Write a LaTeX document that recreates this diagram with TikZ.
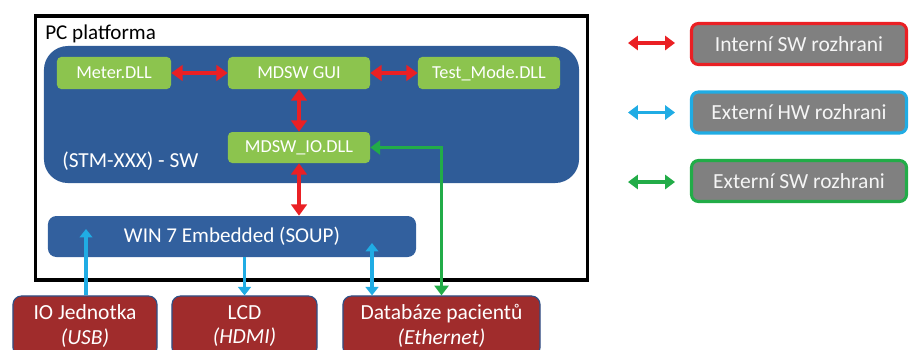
\documentclass[tikz,border=0pt]{standalone}
\usepackage{fontspec}
\setmainfont{Carlito}
\usetikzlibrary{arrows.meta}
\definecolor{swblue}{RGB}{47,92,152}
\definecolor{winblue}{RGB}{50,96,158}
\definecolor{dllgreen}{RGB}{140,196,78}
\definecolor{hwred}{RGB}{160,44,44}
\definecolor{hwedge}{RGB}{45,80,135}
\definecolor{leggray}{RGB}{128,128,128}
\definecolor{intred}{RGB}{234,32,36}
\definecolor{hwcyan}{RGB}{32,172,228}
\definecolor{swgreen}{RGB}{34,172,72}

\begin{document}
\begin{tikzpicture}[x=0.025cm,y=-0.025cm,
  dll/.style={fill=dllgreen,rounded corners=3pt,text=white,font=\fontsize{13}{15}\selectfont,
    minimum width=3.55cm,minimum height=0.8cm,inner sep=0pt},
  hwbox/.style={fill=hwred,draw=hwedge,line width=0.8pt,rounded corners=6pt,text=white,align=center,
    font=\fontsize{15.3}{17.5}\selectfont,minimum height=1.5cm,inner sep=0pt},
  legbox/.style={fill=leggray,line width=2.2pt,rounded corners=5pt,text=white!92!gray,
    font=\fontsize{15.3}{17}\selectfont,minimum width=5.375cm,minimum height=1.025cm,inner sep=0pt},
  biarr/.style={draw=#1,line width=2.4pt,{Triangle[length=7pt,width=10pt]}-{Triangle[length=7pt,width=10pt]}},
  intarr/.style={draw=intred,line width=2.6pt,{Triangle[length=8pt,width=11pt]}-{Triangle[length=8pt,width=11pt]}},
  hwarr/.style={draw=hwcyan,line width=2.2pt},
  swarr/.style={draw=swgreen,line width=2.4pt,{Triangle[length=7pt,width=10pt]}-{Triangle[length=7pt,width=10pt]}}]
  \clip (0,0) rectangle (911,349);
  % PC platform with the SW block
  \node[draw,line width=2.6pt,minimum width=13.79cm,minimum height=6.61cm,inner sep=0pt] (pc) at (311.5,148) {};
  \node[anchor=base west,font=\fontsize{15}{17}\selectfont,inner sep=0pt] (pclabel) at (45,39) {PC platforma};
  \node[fill=swblue,rounded corners=0.6cm,minimum width=13.375cm,minimum height=3.425cm,inner sep=0pt] (sw) at (311.5,114.5) {};
  \node[anchor=base west,text=white,font=\fontsize{15.2}{17}\selectfont,inner sep=0pt] (swlabel) at (62,167) {(STM-XXX) - SW};
  \node[dll,minimum width=2.85cm] (meter) at (114,73) {Meter.DLL};
  \node[dll] (gui) at (299,73) {MDSW GUI};
  \node[dll] (test) at (489,73) {Test\_Mode.DLL};
  \node[dll,minimum height=0.775cm] (io) at (299,147.5) {MDSW\_IO.DLL};
  \node[fill=winblue,rounded corners=6pt,text=white,font=\fontsize{15}{17}\selectfont,
    minimum width=9.2cm,minimum height=1.025cm,inner sep=0pt] (win) at (232,236.5) {WIN 7 Embedded (SOUP)};
  % hardware
  \node[hwbox,minimum width=3.6cm] (iou) at (85,326) {IO Jednotka\\\textit{(USB)}};
  \node[hwbox,minimum width=3.625cm] (lcd) at (244.5,326) {LCD\\\textit{(HDMI)}};
  \node[hwbox,minimum width=4.925cm] (db) at (441.5,326) {Databáze pacientů\\\textit{(Ethernet)}};
  % interfaces
  \draw[intarr] (meter) -- (gui);
  \draw[intarr] (gui) -- (test);
  \draw[intarr] (gui) -- (io);
  \draw[intarr] (io.south) -- (io.south |- win.north);
  \draw[swarr] (io.east) -| (db.north);
  \coordinate (ioin) at (86,229);
  \coordinate (dbin) at (372,243);
  \draw[hwarr,-{Triangle[length=6pt,width=9pt]}] (ioin |- iou.north) -- (ioin);
  \draw[hwarr,-{Triangle[length=6pt,width=9pt]}] (lcd.north |- win.south) -- (lcd.north);
  \draw[hwarr,{Triangle[length=6pt,width=9pt]}-{Triangle[length=6pt,width=9pt]}] (dbin) -- (dbin |- db.north);
  % legend
  \foreach \c/\t [count=\i] in {intred/Interní SW rozhrani,hwcyan/Externí HW rozhrani,swgreen/Externí SW rozhrani}{
    \node[legbox,draw=\c] (leg\i) at (799,{44+68.5*(\i-1)}) {\t};
    \coordinate (la\i) at (628,{43+69.5*(\i-1)});
    \coordinate (lb\i) at (675,{43+69.5*(\i-1)});
    \draw[biarr=\c] (la\i) -- (lb\i);
  }
\end{tikzpicture}
\end{document}
